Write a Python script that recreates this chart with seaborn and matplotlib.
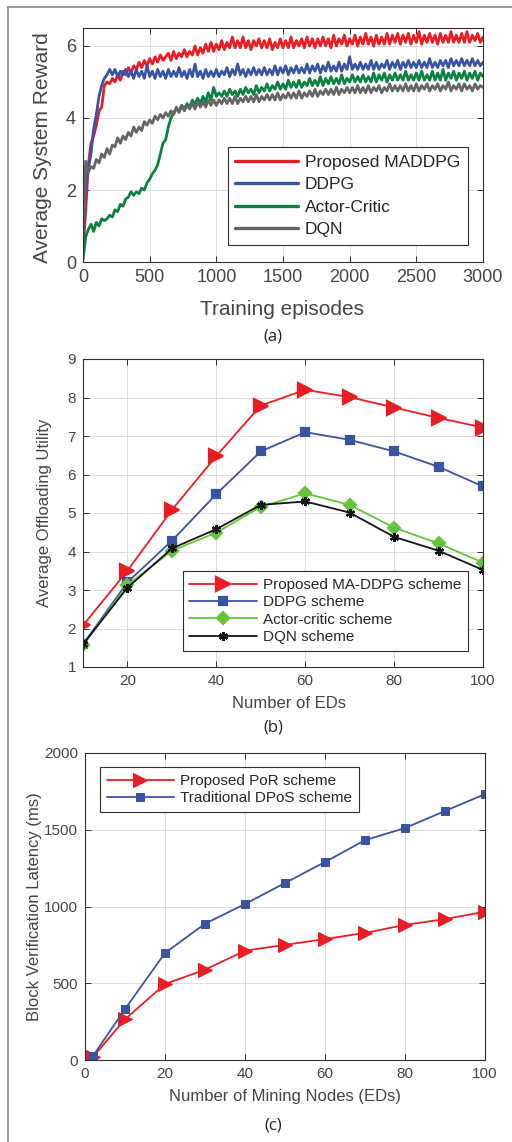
import numpy as np
import matplotlib
matplotlib.use('Agg')
import matplotlib.pyplot as plt
from matplotlib.lines import Line2D
import seaborn as sns

# ---- panel (a): training curves, one value every 20 episodes ----
episodes = np.arange(0, 3001, 20)

reward_maddpg = [
    0.3, 1.4, 2.7, 3.3, 3.5, 3.8, 4.2, 4.3, 4.9, 5.0,
    4.95, 5.1, 5.0, 5.2, 5.05, 5.3, 5.2, 5.4, 5.25, 5.45,
    5.35, 5.55, 5.4, 5.6, 5.45, 5.65, 5.5, 5.7, 5.55, 5.75,
    5.6, 5.7, 5.8, 5.6, 5.85, 5.65, 5.8, 5.7, 5.9, 5.7,
    5.85, 5.75, 6.0, 5.75, 5.95, 5.8, 6.05, 5.85, 6.1, 5.85,
    6.05, 5.9, 6.15, 5.9, 6.1, 5.95, 6.25, 5.95, 6.15, 5.95,
    6.25, 5.95, 6.15, 5.9, 6.15, 6.0, 6.2, 5.95, 6.15, 5.95,
    6.2, 5.9, 6.1, 5.95, 6.2, 5.95, 6.15, 5.95, 6.25, 5.95,
    6.15, 6.0, 6.2, 5.95, 6.25, 6.0, 6.2, 5.95, 6.2, 6.0,
    6.25, 6.0, 6.2, 5.95, 6.3, 6.0, 6.2, 6.05, 6.3, 6.0,
    6.2, 6.05, 6.3, 6.0, 6.25, 6.05, 6.35, 6.05, 6.25, 6.0,
    6.3, 6.05, 6.25, 6.05, 6.35, 6.05, 6.3, 6.1, 6.35, 6.05,
    6.3, 6.1, 6.35, 6.05, 6.3, 6.1, 6.4, 6.05, 6.3, 6.1,
    6.35, 6.1, 6.3, 6.05, 6.35, 6.1, 6.3, 6.1, 6.4, 6.1,
    6.3, 6.1, 6.35, 6.1, 6.4, 6.1, 6.3, 6.15, 6.35, 6.1,
    6.25]

reward_ddpg = [
    0.5, 2.0, 2.6, 3.0, 3.7, 4.1, 4.6, 4.9, 5.1, 5.2,
    5.35, 5.2, 5.35, 5.15, 5.3, 5.2, 5.35, 5.15, 5.3, 5.1,
    5.35, 5.15, 5.3, 5.1, 5.45, 5.15, 5.3, 5.1, 5.35, 5.15,
    5.3, 5.1, 5.35, 5.15, 5.3, 5.15, 5.4, 5.15, 5.3, 5.1,
    5.35, 5.15, 5.5, 5.15, 5.3, 5.1, 5.35, 5.15, 5.3, 5.15,
    5.35, 5.15, 5.3, 5.2, 5.4, 5.15, 5.35, 5.2, 5.5, 5.2,
    5.35, 5.15, 5.35, 5.2, 5.4, 5.2, 5.35, 5.2, 5.4, 5.2,
    5.35, 5.2, 5.45, 5.2, 5.4, 5.25, 5.45, 5.2, 5.4, 5.25,
    5.45, 5.25, 5.4, 5.25, 5.5, 5.25, 5.45, 5.3, 5.5, 5.25,
    5.45, 5.3, 5.55, 5.3, 5.45, 5.3, 5.55, 5.3, 5.5, 5.35,
    5.7, 5.35, 5.5, 5.35, 5.55, 5.35, 5.5, 5.35, 5.6, 5.35,
    5.55, 5.35, 5.5, 5.4, 5.6, 5.35, 5.55, 5.4, 5.6, 5.35,
    5.55, 5.4, 5.6, 5.4, 5.55, 5.4, 5.6, 5.4, 5.55, 5.4,
    5.65, 5.4, 5.55, 5.4, 5.6, 5.45, 5.6, 5.4, 5.65, 5.45,
    5.6, 5.45, 5.65, 5.45, 5.6, 5.45, 5.65, 5.45, 5.6, 5.45,
    5.55]

reward_ac = [
    0.05, 0.7, 0.9, 1.05, 0.85, 1.1, 1.0, 1.2, 1.15, 1.2,
    1.3, 1.25, 1.45, 1.4, 1.6, 1.55, 1.75, 1.8, 1.95, 1.85,
    1.95, 1.9, 2.05, 2.0, 2.2, 2.3, 2.45, 2.55, 2.7, 3.0,
    3.3, 3.4, 3.75, 4.0, 4.15, 4.25, 4.2, 4.35, 4.25, 4.4,
    4.3, 4.5, 4.4, 4.55, 4.4, 4.6, 4.45, 4.7, 4.5, 4.85,
    4.6, 4.7, 4.6, 4.75, 4.6, 4.8, 4.65, 4.75, 4.6, 4.8,
    4.65, 4.85, 4.7, 4.8, 4.65, 4.9, 4.7, 4.85, 4.75, 4.95,
    4.75, 4.9, 4.8, 5.0, 4.8, 4.95, 4.8, 5.05, 4.85, 5.0,
    4.85, 5.05, 4.85, 5.0, 4.9, 5.1, 4.9, 5.05, 4.9, 5.15,
    4.9, 5.1, 4.95, 5.15, 4.95, 5.1, 4.95, 5.2, 4.95, 5.1,
    5.0, 5.2, 5.0, 5.15, 5.0, 5.2, 5.0, 5.15, 5.0, 5.25,
    5.0, 5.2, 5.05, 5.25, 5.0, 5.2, 5.05, 5.25, 5.05, 5.2,
    5.05, 5.3, 5.05, 5.2, 5.05, 5.25, 5.05, 5.3, 5.05, 5.2,
    5.05, 5.3, 5.05, 5.25, 5.05, 5.35, 5.05, 5.25, 5.1, 5.3,
    5.05, 5.25, 5.1, 5.3, 5.05, 5.25, 5.1, 5.3, 5.05, 5.25,
    5.15]

reward_dqn = [
    0.7, 2.8, 2.5, 2.65, 2.6, 2.85, 2.75, 3.0, 2.9, 3.15,
    3.0, 3.25, 3.2, 3.45, 3.3, 3.5, 3.4, 3.6, 3.5, 3.75,
    3.6, 3.75, 3.65, 3.9, 3.8, 3.95, 3.85, 4.05, 3.95, 4.1,
    4.0, 4.15, 4.05, 4.2, 4.1, 4.3, 4.15, 4.35, 4.2, 4.35,
    4.25, 4.4, 4.25, 4.45, 4.3, 4.45, 4.3, 4.5, 4.35, 4.5,
    4.35, 4.5, 4.4, 4.55, 4.4, 4.55, 4.4, 4.6, 4.4, 4.55,
    4.45, 4.6, 4.45, 4.6, 4.45, 4.65, 4.45, 4.6, 4.5, 4.65,
    4.5, 4.65, 4.5, 4.7, 4.5, 4.65, 4.55, 4.7, 4.55, 4.7,
    4.55, 4.75, 4.55, 4.7, 4.6, 4.75, 4.6, 4.8, 4.6, 4.75,
    4.65, 4.8, 4.65, 4.8, 4.65, 4.85, 4.65, 4.8, 4.7, 4.85,
    4.7, 4.85, 4.7, 4.9, 4.7, 4.85, 4.7, 4.9, 4.7, 4.85,
    4.75, 4.9, 4.7, 4.85, 4.75, 4.95, 4.75, 4.9, 4.75, 4.9,
    4.75, 4.95, 4.75, 4.9, 4.75, 4.95, 4.75, 4.9, 4.8, 4.95,
    4.75, 4.9, 4.8, 4.95, 4.75, 4.9, 4.8, 5.0, 4.75, 4.9,
    4.8, 4.95, 4.75, 4.95, 4.8, 4.9, 4.75, 4.95, 4.8, 4.9,
    4.85]

# ---- panel (b): offloading utility vs number of EDs ----
num_eds = [10, 20, 30, 40, 50, 60, 70, 80, 90, 100]
util_maddpg = [2.08, 3.5, 5.08, 6.48, 7.79, 8.2, 8.01, 7.74, 7.47, 7.22]
util_ddpg = [1.59, 3.2, 4.28, 5.49, 6.6, 7.1, 6.9, 6.6, 6.2, 5.69]
util_ac = [1.56, 3.13, 4.02, 4.49, 5.16, 5.51, 5.21, 4.62, 4.21, 3.71]
util_dqn = [1.59, 3.06, 4.08, 4.58, 5.21, 5.3, 5.01, 4.38, 4.02, 3.52]

# ---- panel (c): block verification latency ----
mining_nodes = [2, 10, 20, 30, 40, 50, 60, 70, 80, 90, 100]
latency_por = [20, 265, 495, 588, 712, 750, 788, 828, 880, 918, 966]
latency_dpos = [26, 332, 697, 888, 1016, 1153, 1290, 1432, 1511, 1622, 1732]

RED = '#ec1c24'
BLUE = '#3a54a4'
GREEN_A = '#0c8141'
GRAY = '#656565'
GREEN_B = '#66c43c'
BLACK = '#151515'
TXT = '#454545'

sns.set_style('ticks')
plt.rcParams['font.family'] = ['Liberation Sans', 'DejaVu Sans']
plt.rcParams['axes.edgecolor'] = '#303030'
plt.rcParams['axes.linewidth'] = 0.8

W, H = 512, 1142
fig = plt.figure(figsize=(W / 100, H / 100), dpi=100)


def px_axes(left, top, right, bottom):
    return fig.add_axes([left / W, 1 - bottom / H, (right - left) / W, (bottom - top) / H])


def style_axes(ax, tick_size):
    ax.grid(True, color='#dedede', linewidth=0.7)
    ax.set_axisbelow(True)
    for s in ax.spines.values():
        s.set_visible(True)
        s.set_color('#303030')
    ax.tick_params(direction='in', top=True, right=True, length=4, width=0.7,
                   labelsize=tick_size, labelcolor=TXT, color='#303030', pad=5)


def add_legend(ax, loc, anchor, size, hlen, spacing):
    leg = ax.legend(loc=loc, bbox_to_anchor=anchor, fontsize=size, borderaxespad=0,
                    handlelength=hlen, handletextpad=0.4, labelspacing=spacing,
                    borderpad=0.45, fancybox=False, framealpha=1, edgecolor='#303030')
    leg.get_frame().set_linewidth(0.8)
    return leg


# (a)
ax_a = px_axes(83, 28, 483, 262)
for vals, col, lab in [(reward_maddpg, RED, 'Proposed MADDPG'),
                       (reward_ddpg, BLUE, 'DDPG'),
                       (reward_ac, GREEN_A, 'Actor-Critic'),
                       (reward_dqn, GRAY, 'DQN')]:
    sns.lineplot(x=episodes, y=vals, ax=ax_a, color=col, linewidth=2.0, label=lab)
ax_a.set_xlim(0, 3000)
ax_a.set_ylim(0, 6.5)
ax_a.set_xticks(range(0, 3001, 500))
ax_a.set_yticks([0, 2, 4, 6])
style_axes(ax_a, 13)
ax_a.set_xlabel('Training episodes', fontsize=15, color=TXT, va='center')
ax_a.xaxis.set_label_coords(0.4975, -0.205)
ax_a.set_ylabel('Average System Reward', fontsize=15, color=TXT, va='center')
ax_a.yaxis.set_label_coords(-0.1, 0.49)
leg = add_legend(ax_a, 'lower right', (0.9625, 0.0726), 12.5, 3.6, 0.42)
for h in leg.get_lines():
    h.set_linewidth(2.4)

# (b)
ax_b = px_axes(83, 359, 483, 667)
for vals, col, mk, ms, lab in [(util_maddpg, RED, '>', 10, 'Proposed MA-DDPG scheme'),
                               (util_ddpg, BLUE, 's', 6.2, 'DDPG scheme'),
                               (util_ac, GREEN_B, 'D', 6.5, 'Actor-critic scheme'),
                               (util_dqn, BLACK, (6, 2, 0), 6.5, 'DQN scheme')]:
    sns.lineplot(x=num_eds, y=vals, ax=ax_b, color=col, linewidth=1.3, marker=mk,
                 markersize=ms, markerfacecolor=col, markeredgecolor=col,
                 markeredgewidth=1.6, label=lab)
ax_b.set_xlim(10, 100)
ax_b.set_ylim(1, 9)
ax_b.set_xticks([20, 40, 60, 80, 100])
ax_b.set_yticks(range(1, 10))
style_axes(ax_b, 11)
ax_b.set_xlabel('Number of EDs', fontsize=12, color=TXT, va='center')
ax_b.xaxis.set_label_coords(0.515, -0.117)
ax_b.set_ylabel('Average Offloading Utility', fontsize=12, color=TXT, va='center')
ax_b.yaxis.set_label_coords(-0.095, 0.5)
add_legend(ax_b, 'lower right', (0.9625, 0.052), 11, 4.4, 0.22)

# (c)
ax_c = px_axes(85, 753, 485, 1060)
for vals, col, mk, ms, lab in [(latency_por, RED, '>', 10, 'Proposed PoR scheme'),
                               (latency_dpos, BLUE, 's', 6.2, 'Traditional DPoS scheme')]:
    sns.lineplot(x=mining_nodes, y=vals, ax=ax_c, color=col, linewidth=1.3, marker=mk,
                 markersize=ms, markerfacecolor=col, markeredgecolor=col, label=lab)
ax_c.set_xlim(0, 100)
ax_c.set_ylim(0, 2000)
ax_c.set_xticks(range(0, 101, 20))
ax_c.set_yticks(range(0, 2001, 500))
style_axes(ax_c, 11)
ax_c.set_xlabel('Number of Mining Nodes (EDs)', fontsize=12, color=TXT, va='center')
ax_c.xaxis.set_label_coords(0.5, -0.12)
ax_c.set_ylabel('Block Verification Latency (ms)', fontsize=12, color=TXT, va='center')
ax_c.yaxis.set_label_coords(-0.125, 0.5)
add_legend(ax_c, 'upper left', (0.0375, 0.954), 11, 4.4, 0.22)

# captions
for lab, yc in [('(a)', 336), ('(b)', 727), ('(c)', 1125)]:
    fig.text(273 / W, 1 - yc / H, lab, ha='center', va='center', fontsize=12,
             family=['Open Sans', 'DejaVu Sans'], color='#222222')

# outer frame (top and left edges)
fig.add_artist(Line2D([8 / W, 1], [1 - 7 / H, 1 - 7 / H], color='#8a8a8a', linewidth=1.2))
fig.add_artist(Line2D([8 / W, 8 / W], [0, 1 - 7 / H], color='#8a8a8a', linewidth=1.2))

fig.savefig('out.png', dpi=100)
